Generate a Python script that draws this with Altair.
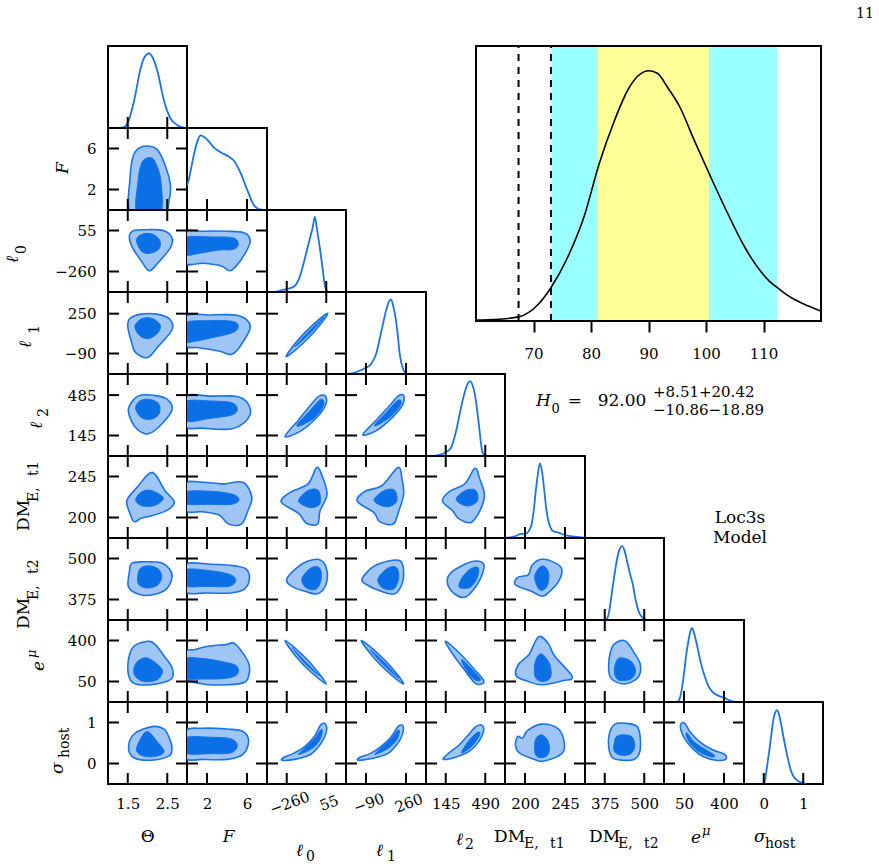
import altair as alt
import pandas as pd

FONT = "DejaVu Serif"
BLUE = "#1a73e8"
LIGHT = "#9fc5f4"
DARK = "#0b6fe6"
COL_W = [79, 80, 79, 80, 79, 80, 79, 80, 79]   # panel widths per column
H = 82                                         # panel height
TL = 11                                        # inward tick length

# ---- parameters of the corner grid -------------------------------------
params = ["theta", "F", "l0", "l1", "l2", "dm1", "dm2", "emu", "sig"]

theta_dom, theta_ticks = [1.0, 3.0], [1.5, 2.5]
F_dom, F_ticks = [0.0, 8.0], [2, 6]
l0_dom, l0_ticks = [-417.5, 212.5], [-260, 55]
l1_dom, l1_ticks, l1_yticks = [-265.0, 435.0], [-90, 260], [-90, 250]
l2_dom, l2_ticks, l2_yticks = [-27.5, 662.5], [145, 490], [145, 485]
dm1_dom, dm1_ticks = [177.5, 267.5], [200, 245]
dm2_dom, dm2_ticks = [312.5, 562.5], [375, 500]
emu_dom, emu_ticks = [-125.0, 575.0], [50, 400]
sig_dom, sig_ticks = [-0.5, 1.5], [0, 1]

# ---- 1D marginal posteriors (normalised height) -------------------------
theta_pdf_x = [1.0, 1.2, 1.35, 1.41, 1.53, 1.66, 1.83, 1.93, 2.04, 2.13, 2.25, 2.42, 2.59, 2.74, 2.84, 3.0]
theta_pdf_y = [0.0, 0.0, 0.005, 0.01, 0.1, 0.33, 0.735, 0.87, 0.91, 0.86, 0.695, 0.33, 0.11, 0.04, 0.015, 0.0]
F_pdf_x = [0.0, 0.13, 0.7, 1.04, 1.37, 2.0, 2.71, 3.4, 4.07, 4.7, 5.4, 6.07, 6.74, 7.4, 8.0]
F_pdf_y = [0.3, 0.35, 0.68, 0.84, 0.91, 0.86, 0.76, 0.7, 0.66, 0.6, 0.44, 0.23, 0.05, 0.005, 0.0]
l0_pdf_x = [-417.5, -340, -305.7, -250, -200, -160, -134, -107, -81, -54, -36, -20, -2, 12, 25, 43, 57, 80, 212.5]
l0_pdf_y = [0.0, 0.005, 0.02, 0.04, 0.07, 0.17, 0.3, 0.46, 0.62, 0.78, 0.915, 0.78, 0.6, 0.45, 0.3, 0.09, 0.02, 0.0, 0.0]
l1_pdf_x = [-265, -200, -164.6, -100, -47.4, 0, 25.7, 60, 84.8, 110, 128.8, 150, 172.9, 190, 202, 220, 240.7, 260, 300, 435]
l1_pdf_y = [0.0, 0.01, 0.03, 0.07, 0.12, 0.25, 0.4, 0.62, 0.77, 0.88, 0.91, 0.82, 0.65, 0.45, 0.28, 0.13, 0.04, 0.01, 0.0, 0.0]
l2_pdf_x = [-27.5, 60, 104.5, 150, 191.4, 234.8, 278.2, 321.7, 340, 359, 380, 399.8, 420, 437.2, 455, 466.7, 504, 662.5]
l2_pdf_y = [0.0, 0.005, 0.02, 0.05, 0.1, 0.3, 0.59, 0.83, 0.89, 0.91, 0.86, 0.75, 0.55, 0.35, 0.13, 0.04, 0.0, 0.0]
dm1_pdf_x = [177.5, 188.6, 195.8, 199.9, 204, 207.5, 210, 212.1, 214.5, 216.9, 219.3, 221.8, 224, 226.3, 231.4, 237.7, 245, 252.8, 267.5]
dm1_pdf_y = [0.0, 0.02, 0.05, 0.05, 0.08, 0.17, 0.35, 0.57, 0.78, 0.91, 0.8, 0.57, 0.35, 0.21, 0.085, 0.065, 0.035, 0.02, 0.005]
dm2_pdf_x = [312.5, 376, 382.7, 389, 395.3, 403, 411, 420, 429.9, 438, 447.8, 455, 463.5, 470, 477.1, 485, 495, 505, 521, 562.5]
dm2_pdf_y = [0.0, 0.0, 0.02, 0.1, 0.27, 0.48, 0.68, 0.84, 0.9, 0.84, 0.68, 0.56, 0.44, 0.3, 0.17, 0.08, 0.03, 0.005, 0.0, 0.0]
emu_pdf_x = [-125, -11.3, 8.9, 30, 53, 70, 88.2, 105, 120.8, 138, 156, 178, 200, 230, 259, 295, 332, 370, 405.4, 440, 464.4, 500, 575]
emu_pdf_y = [0.0, 0.0, 0.03, 0.15, 0.38, 0.58, 0.74, 0.86, 0.9, 0.84, 0.74, 0.6, 0.46, 0.32, 0.21, 0.13, 0.09, 0.065, 0.05, 0.025, 0.01, 0.0, 0.0]
sig_pdf_x = [-0.01, 0.02, 0.08, 0.15, 0.2, 0.25, 0.29, 0.33, 0.38, 0.44, 0.5, 0.57, 0.63, 0.69, 0.77, 0.86, 0.99, 1.07]
sig_pdf_y = [0.0, 0.02, 0.2, 0.44, 0.63, 0.8, 0.87, 0.9, 0.86, 0.73, 0.57, 0.4, 0.27, 0.16, 0.08, 0.04, 0.01, 0.0]

# ---- 2D credible contours: outer (light) and inner (dark) levels ---------
F_theta_out = [[1.58, -0.4], [1.56, 3.2], [1.64, 5.28], [1.80, 6.08], [2.0, 6.24], [2.24, 5.92], [2.42, 4.64], [2.58, 2.48], [2.54, 0.8], [2.4, -0.4]]
F_theta_in = [[1.74, -0.4], [1.76, 2.8], [1.86, 4.64], [2.06, 5.12], [2.2, 4.64], [2.34, 2.8], [2.32, -0.4]]

l0_theta_out = [[1.54, 11], [1.62, -77], [1.84, -178], [2.04, -254], [2.24, -203], [2.58, -77], [2.62, -2], [2.4, 55], [2.0, 61], [1.66, 55]]
l0_theta_in = [[1.72, -14], [1.84, -102], [2.04, -121], [2.28, -90], [2.32, -27], [2.16, 23], [1.9, 30]]
l0_F_out = [[-0.24, -191], [-0.24, 36], [1.6, 49], [4.0, 49], [5.76, 36], [6.32, -27], [5.76, -128], [4.8, -228], [4.24, -254], [3.36, -216], [1.6, -197]]
l0_F_in = [[-0.24, -128], [-0.24, -2], [2.4, 5], [4.64, -2], [5.12, -52], [4.64, -90], [3.04, -96], [1.2, -121]]

l1_theta_out = [[1.5, 141], [1.6, 1], [1.7, -83], [2.0, -125], [2.26, -34], [2.62, 113], [2.56, 204], [2.24, 246], [1.84, 246], [1.56, 211]]
l1_theta_in = [[1.68, 141], [1.8, 64], [2.02, 36], [2.26, 85], [2.32, 155], [2.1, 211], [1.84, 204]]
l1_F_out = [[-0.24, -13], [-0.24, 225], [2.4, 239], [5.2, 232], [6.32, 141], [5.44, -13], [4.48, -97], [3.2, -69], [1.2, -41]]
l1_F_in = [[-0.24, 15], [-0.24, 169], [2.4, 190], [4.64, 183], [5.12, 134], [4.48, 85], [2.4, 43], [0.8, 15]]
l1_l0_out = [[-266, -118], [-172, 22], [-58, 148], [68, 253], [-27, 113], [-140, -13]]
l1_l0_in = [[-197, -34], [-96, 85], [36, 218], [-84, 71]]

l2_theta_out = [[1.52, 373], [1.6, 262], [1.76, 193], [2.0, 159], [2.28, 214], [2.62, 359], [2.5, 449], [2.16, 483], [1.76, 476]]
l2_theta_in = [[1.7, 373], [1.84, 297], [2.1, 283], [2.3, 331], [2.28, 414], [2.04, 449], [1.8, 435]]
l2_F_out = [[-0.24, 228], [-0.24, 469], [2.4, 476], [5.2, 469], [6.32, 373], [5.92, 269], [4.4, 200], [1.6, 207]]
l2_F_in = [[-0.24, 269], [-0.24, 428], [2.4, 435], [4.48, 421], [5.04, 366], [4.48, 318], [2.4, 290]]
l2_l0_out = [[-273, 138], [-166, 276], [-71, 400], [-2, 476], [49, 476], [49, 400], [-27, 290], [-153, 180]]
l2_l0_in = [[-178, 235], [-71, 359], [11, 449], [36, 407], [-27, 304], [-134, 235]]
l2_l1_out = [[-118, 152], [1, 276], [120, 400], [190, 476], [239, 483], [232, 407], [141, 297], [1, 186]]
l2_l1_in = [[-13, 235], [99, 352], [190, 442], [218, 414], [141, 318], [29, 242]]

dm1_theta_out = [[2.12, 249.5], [1.74, 233.3], [1.48, 218.9], [1.54, 206.3], [1.66, 195.5], [1.84, 199.1], [2.1, 201.8], [2.5, 208.1], [2.68, 217.1], [2.44, 229.7]]
dm1_theta_in = [[1.7, 218.9], [1.84, 227.9], [2.1, 229.7], [2.4, 221.6], [2.2, 213.5], [1.88, 212.6]]
dm1_F_out = [[-0.24, 208.1], [-0.24, 236.9], [1.6, 238.7], [3.6, 236.9], [5.6, 238.7], [6.48, 222.5], [6.08, 207.2], [5.44, 192.8], [4.16, 192.8], [3.2, 202.7], [1.6, 206.3]]
dm1_F_in = [[-0.24, 215.3], [-0.24, 227.9], [2.4, 228.8], [4.64, 225.2], [5.2, 218.9], [4.4, 214.4], [2.4, 214.4]]
dm1_l0_out = [[-21, 254.9], [24, 245], [61, 225.2], [5, 207.2], [-14, 192.8], [-103, 193.7], [-166, 204.5], [-304, 217.1], [-229, 227.9], [-90, 236.9]]
dm1_l0_in = [[-166, 218], [-90, 229.7], [-8, 229.7], [5, 215.3], [-71, 210.8]]
dm1_l1_out = [[190, 254.9], [225, 242.3], [239, 225.2], [197, 207.2], [148, 192.8], [29, 195.5], [-20, 205.4], [-167, 218], [-97, 228.8], [50, 235.1]]
dm1_l1_in = [[-20, 218.9], [71, 229.7], [162, 229.7], [176, 217.1], [85, 211.7]]
dm1_l2_out = [[400, 254], [442, 242.3], [483, 225.2], [449, 209], [366, 194.6], [255, 199.1], [207, 207.2], [117, 218], [180, 228.8], [311, 236.9]]
dm1_l2_in = [[235, 219.8], [318, 229.7], [407, 229.7], [421, 218], [331, 212.6]]

dm2_theta_out = [[1.6, 485], [1.9, 490], [2.32, 487.5], [2.56, 467.5], [2.62, 442.5], [2.48, 407.5], [2.16, 390], [1.8, 390], [1.52, 412.5], [1.54, 457.5]]
dm2_theta_in = [[1.8, 467.5], [2.04, 477.5], [2.28, 467.5], [2.36, 442.5], [2.24, 417.5], [1.96, 410], [1.76, 425]]
dm2_F_out = [[-0.24, 400], [-0.24, 480], [2.4, 482.5], [4.8, 477.5], [5.92, 467.5], [6.24, 437.5], [5.76, 407.5], [4.4, 395], [2.0, 395]]
dm2_F_in = [[-0.24, 417.5], [-0.24, 465], [2.4, 462.5], [4.4, 450], [4.88, 432.5], [4.16, 415], [2.0, 415]]
dm2_l0_out = [[-90, 492.5], [11, 495], [61, 462.5], [49, 417.5], [-14, 392.5], [-115, 400], [-229, 417.5], [-260, 437.5], [-178, 472.5]]
dm2_l0_in = [[-140, 437.5], [-71, 470], [-2, 472.5], [17, 442.5], [-21, 407.5], [-103, 410]]
dm2_l1_out = [[106, 492.5], [211, 492.5], [239, 462.5], [225, 422.5], [162, 392.5], [43, 400], [-83, 420], [-125, 437.5], [-27, 475]]
dm2_l1_in = [[15, 437.5], [99, 470], [176, 472.5], [197, 442.5], [155, 407.5], [57, 410]]
dm2_l2_out = [[311, 482.5], [414, 492.5], [476, 482.5], [469, 457.5], [414, 417.5], [318, 382.5], [221, 392.5], [159, 425], [186, 455]]
dm2_l2_in = [[262, 412.5], [290, 442.5], [359, 467.5], [428, 472.5], [421, 442.5], [359, 412.5]]
dm2_dm1_out = [[218.9, 497.5], [233.3, 487.5], [241.4, 467.5], [237.8, 430], [227, 397.5], [218.9, 385], [207.2, 400], [189.2, 420], [191.9, 442.5], [203.6, 450], [208.1, 480]]
dm2_dm1_in = [[210.8, 442.5], [216.2, 472.5], [222.5, 475], [227, 450], [224.3, 412.5], [216.2, 405]]

emu_theta_out = [[2.0, 393], [2.2, 365], [2.42, 267], [2.62, 169], [2.6, 71], [2.08, 22], [1.62, 43], [1.5, 169], [1.62, 337]]
emu_theta_in = [[1.76, 225], [1.96, 253], [2.2, 211], [2.38, 141], [2.24, 64], [1.9, 50], [1.68, 99], [1.66, 169]]
emu_F_out = [[-0.24, 85], [-0.24, 295], [0.8, 323], [2.08, 351], [3.84, 365], [4.8, 372], [6.08, 225], [6.24, 127], [5.76, 43], [4.0, 22], [1.6, 29]]
emu_F_in = [[-0.24, 85], [-0.24, 239], [1.6, 246], [3.6, 218], [4.96, 183], [5.04, 113], [4.0, 78], [1.6, 71]]
emu_l0_out = [[-273, 400], [-150, 291.5], [-43, 172.5], [55, 29], [-74, 137.5], [-181, 256.5]]
emu_l0_in = [[-216, 337], [-103, 211], [-2, 99], [-115, 204]]
emu_l1_out = [[-132, 400], [8, 295], [134, 169], [239, 29], [99, 134], [-27, 260]]
emu_l1_in = [[-55, 323], [64, 218], [197, 78], [57, 197]]
emu_l2_out = [[145, 393], [283, 274], [400, 148], [476, 57], [456, 29], [400, 36], [304, 155], [193, 302]]
emu_l2_in = [[283, 239], [387, 141], [449, 64], [400, 64], [331, 134]]
emu_dm1_out = [[217.1, 435], [227, 365], [233.3, 267], [253.1, 92], [242.3, 57], [218.9, 22], [203.6, 50], [190.1, 99], [192.8, 197], [204.5, 281], [211.7, 393]]
emu_dm1_in = [[214.4, 267], [219.8, 281], [227.9, 197], [228.8, 85], [219.8, 50], [211.7, 85], [210.8, 190]]
emu_dm2_out = [[427.5, 400], [445, 386], [465, 309], [487.5, 197], [480, 85], [437.5, 29], [395, 78], [387.5, 197], [400, 351]]
emu_dm2_in = [[412.5, 225], [425, 253], [457.5, 225], [472.5, 141], [457.5, 71], [417.5, 64], [405, 141]]

sig_theta_out = [[2.12, 0.9], [2.42, 0.84], [2.56, 0.6], [2.62, 0.38], [2.54, 0.18], [2.08, 0.08], [1.66, 0.14], [1.52, 0.38], [1.66, 0.72]]
sig_theta_in = [[1.9, 0.72], [2.04, 0.76], [2.24, 0.54], [2.42, 0.3], [2.24, 0.18], [1.9, 0.18], [1.72, 0.34]]
sig_F_out = [[-0.24, 0.14], [-0.24, 0.78], [1.6, 0.86], [4.0, 0.84], [5.6, 0.78], [6.16, 0.54], [5.6, 0.22], [4.0, 0.1], [1.6, 0.1]]
sig_F_in = [[-0.24, 0.26], [-0.24, 0.62], [2.4, 0.64], [4.4, 0.6], [5.04, 0.44], [4.4, 0.26], [2.4, 0.24]]
sig_l0_out = [[-298, 0.08], [-197, 0.1], [-71, 0.22], [11, 0.48], [55, 0.76], [49, 0.96], [11, 0.94], [-40, 0.66], [-115, 0.42], [-210, 0.24], [-279, 0.16]]
sig_l0_in = [[-166, 0.22], [-71, 0.34], [-2, 0.54], [24, 0.78], [11, 0.82], [-40, 0.6], [-115, 0.38]]
sig_l1_out = [[-160, 0.08], [-41, 0.12], [99, 0.24], [190, 0.5], [232, 0.74], [232, 0.92], [190, 0.9], [127, 0.64], [43, 0.42], [-55, 0.24], [-139, 0.16]]
sig_l1_in = [[-13, 0.22], [99, 0.36], [176, 0.56], [204, 0.78], [183, 0.8], [127, 0.6], [43, 0.38]]
sig_l2_out = [[124, 0.1], [235, 0.16], [352, 0.3], [435, 0.54], [476, 0.8], [456, 0.94], [400, 0.88], [331, 0.66], [249, 0.42], [166, 0.24]]
sig_l2_in = [[283, 0.26], [366, 0.4], [428, 0.62], [442, 0.76], [400, 0.72], [331, 0.5]]
sig_dm1_out = [[218, 0.96], [235.1, 0.88], [243.2, 0.62], [242.3, 0.26], [221.6, 0.06], [210.8, 0.1], [193.7, 0.26], [189.2, 0.46], [191.9, 0.66], [197.3, 0.62], [202.7, 0.8]]
sig_dm1_in = [[211.7, 0.58], [218.9, 0.7], [226.1, 0.54], [227, 0.26], [219.8, 0.14], [211.7, 0.22]]
sig_dm2_out = [[407.5, 0.96], [442.5, 0.98], [477.5, 0.9], [487.5, 0.62], [485, 0.26], [467.5, 0.1], [432.5, 0.08], [400, 0.14], [387.5, 0.4], [390, 0.74]]
sig_dm2_in = [[412.5, 0.66], [437.5, 0.7], [462.5, 0.64], [470, 0.42], [457.5, 0.24], [427.5, 0.2], [405, 0.3], [405, 0.5]]
sig_emu_out = [[22, 0.96], [57, 0.98], [106, 0.76], [190, 0.52], [295, 0.34], [407, 0.22], [414, 0.1], [330, 0.08], [225, 0.16], [134, 0.34], [57, 0.6], [22, 0.82]]
sig_emu_in = [[78, 0.74], [141, 0.52], [239, 0.34], [316, 0.2], [295, 0.16], [197, 0.26], [113, 0.46], [71, 0.66]]

# ---- H0 posterior inset ---------------------------------------------------
h0_x = [60, 62.9, 67.4, 70.8, 73.0, 75.9, 78.8, 81.4, 84.1, 86.4, 88.1, 90.1, 91.6, 93.3, 95.4, 98.0, 100.9, 103.8, 106.7, 108.0, 109.6, 111.0, 112.8, 114.0, 115.4, 117.0, 120]
h0_pdf = [0.003, 0.005, 0.015, 0.06, 0.12, 0.23, 0.38, 0.57, 0.73, 0.84, 0.89, 0.91, 0.90, 0.85, 0.78, 0.655, 0.52, 0.39, 0.27, 0.225, 0.178, 0.145, 0.115, 0.096, 0.078, 0.062, 0.036]
h0_median = 92.00
h0_minus = [10.86, 18.89]
h0_plus = [8.51, 20.42]
h0_reference = [67.4, 73.04]

# ---- lookup tables ---------------------------------------------------------
dom = {p: globals()[p + "_dom"] for p in params}
xticks = {p: globals()[p + "_ticks"] for p in params}
yticks = dict(xticks, l1=l1_yticks, l2=l2_yticks)
pdf = {p: (globals()[p + "_pdf_x"], globals()[p + "_pdf_y"]) for p in params}
fmt = {p: "d" for p in params}
fmt["theta"] = ".1f"
contours = {}
for r in range(9):
    for c in range(r):
        key = params[r] + "_" + params[c]
        contours[(r, c)] = (globals()[key + "_out"], globals()[key + "_in"])

ONE = pd.DataFrame({"a": [0]})


def scale(p):
    return alt.Scale(domain=dom[p], nice=False, zero=False)


def x_axis(p):
    angle = 340 if p in ("l0", "l1") else 0
    return alt.Axis(values=xticks[p], format=fmt[p], ticks=False, tickSize=0, domain=False,
                    grid=False, labelPadding=12, labelFont=FONT, labelFontSize=15,
                    labelColor="black", labelAngle=angle, labelAlign="center",
                    labelBaseline="top", labelOverlap=False, labelFlush=False, title=None)


def y_axis(p):
    return alt.Axis(values=yticks[p], format=fmt[p], ticks=False, tickSize=0, domain=False,
                    grid=False, labelPadding=12, labelFont=FONT, labelFontSize=15,
                    labelColor="black", labelAlign="right", labelBaseline="middle",
                    labelOverlap=False, labelFlush=False, title=None)


def txt(text, x, y, size=17, angle=0, style="normal", align="left", baseline="alphabetic"):
    return alt.Chart(ONE).mark_text(text=text, x=x, y=y, fontSize=size, font=FONT,
                                    fontStyle=style, angle=angle, align=align,
                                    baseline=baseline, color="black")


def tick_rules(p, sc, ax, channel, sides):
    df = pd.DataFrame({"v": (xticks if channel == "x" else yticks)[p]})
    out = []
    for a, b in sides:
        base = alt.Chart(df).mark_rule(color="black", strokeWidth=2)
        if channel == "x":
            out.append(base.encode(x=alt.X("v:Q", scale=sc, axis=ax), y=alt.value(a), y2=alt.value(b)))
        else:
            out.append(base.encode(y=alt.Y("v:Q", scale=sc, axis=ax), x=alt.value(a), x2=alt.value(b)))
    return out


# axis titles drawn as text pieces (symbol + sub/superscript)
x_titles = {
    0: [("Θ", 39.7, 140, 17, "normal", "center")],
    1: [("F", 41.7, 140, 17, "italic", "center")],
    2: [("ℓ", 29, 154, 17, "italic", "left"), ("0", 39, 159, 14, "normal", "left")],
    3: [("ℓ", 30, 154, 17, "italic", "left"), ("1", 41, 159, 14, "normal", "left")],
    4: [("ℓ", 30, 143, 17, "italic", "left"), ("2", 39, 147, 14, "normal", "left")],
    5: [("DM", -11, 140, 17, "normal", "left"), ("E,", 19, 146, 14, "normal", "left"), ("t1", 45, 146, 14, "normal", "left")],
    6: [("DM", 4, 140, 17, "normal", "left"), ("E,", 33, 146, 14, "normal", "left"), ("t2", 59, 146, 14, "normal", "left")],
    7: [("e", 27, 140.7, 17, "italic", "left"), ("μ", 38, 133, 13, "italic", "left")],
    8: [("σ", 10, 140, 17, "italic", "left"), ("host", 21, 146, 14, "normal", "left")],
}
y_titles = {
    1: [("F", -40.3, 40, 17, "italic", "center")],
    2: [("ℓ", -90, 53, 17, "italic", "left"), ("0", -82, 44, 14, "normal", "left")],
    3: [("ℓ", -77, 56, 17, "italic", "left"), ("1", -69, 42, 14, "normal", "left")],
    4: [("ℓ", -66, 55, 17, "italic", "left"), ("2", -60, 43, 14, "normal", "left")],
    5: [("DM", -79, 75, 17, "normal", "left"), ("E,", -70, 46, 14, "normal", "left"), ("t1", -70, 20, 14, "normal", "left")],
    6: [("DM", -79, 91, 17, "normal", "left"), ("E,", -70, 62, 14, "normal", "left"), ("t2", -70, 36, 14, "normal", "left")],
    7: [("e", -64, 51, 17, "italic", "left"), ("μ", -72, 38, 13, "italic", "left")],
    8: [("σ", -45, 72, 17, "italic", "left"), ("host", -39, 56, 14, "normal", "left")],
}


def title_layers(r, c):
    out = []
    if r == 8:
        for t, x, y, s, st, al in x_titles[c]:
            out.append(txt(t, x, y, s, 0, st, al))
    if c == 0 and r in y_titles:
        for t, x, y, s, st, al in y_titles[r]:
            out.append(txt(t, x, y, s, 270, st, al))
    return out


def diag_panel(i):
    p = params[i]
    w = COL_W[i]
    sx = scale(p)
    sy = alt.Scale(domain=[0, 1], nice=False, zero=False)
    ax = x_axis(p) if i == 8 else None
    xs, ys = pdf[p]
    df = pd.DataFrame({"x": xs, "y": ys})
    layers = [alt.Chart(df).mark_line(color=BLUE, strokeWidth=1.8, interpolate="monotone", clip=True)
              .encode(x=alt.X("x:Q", scale=sx, axis=ax), y=alt.Y("y:Q", scale=sy, axis=None))]
    layers += tick_rules(p, sx, ax, "x", [(H, H - TL)])
    layers += title_layers(i, i)
    if i == 0:
        # white corner block fixing the page origin
        layers.append(alt.Chart(ONE).mark_rect(color="white").encode(
            x=alt.value(-107), x2=alt.value(-104), y=alt.value(-45), y2=alt.value(-42)))
    return alt.layer(*layers).properties(width=w, height=H)


def corner_panel(r, c):
    px, py = params[c], params[r]
    w = COL_W[c]
    sx, sy = scale(px), scale(py)
    ax = x_axis(px) if r == 8 else None
    ay = y_axis(py) if c == 0 else None
    outer, inner = contours[(r, c)]
    layers = []
    for pts, fill, sw in ((outer, LIGHT, 1.6), (inner, DARK, 1.0)):
        df = pd.DataFrame({"x": [q[0] for q in pts], "y": [q[1] for q in pts], "k": list(range(len(pts)))})
        layers.append(alt.Chart(df).mark_line(interpolate="cardinal-closed", fill=fill, stroke=BLUE,
                                              strokeWidth=sw, clip=True)
                      .encode(x=alt.X("x:Q", scale=sx, axis=ax), y=alt.Y("y:Q", scale=sy, axis=ay),
                              order=alt.Order("k:Q")))
    layers += tick_rules(px, sx, ax, "x", [(H, H - TL), (0, TL)])
    layers += tick_rules(py, sy, ay, "y", [(0, TL), (w, w - TL)])
    layers += title_layers(r, c)
    return alt.layer(*layers).properties(width=w, height=H)


def blank_panel(c):
    return alt.Chart(ONE).mark_point(opacity=0).properties(
        width=COL_W[c], height=H, view=alt.ViewBackground(stroke="transparent"))


def inset_panel(c):
    # drawn from the empty cell of row 0, column 4 (origin x = 425 px)
    sx = alt.Scale(domain=[60, 120], range=[50, 395], nice=False, zero=False)
    sy = alt.Scale(domain=[0, 1], range=[275, 0], nice=False, zero=False)
    ax = alt.Axis(values=[70, 80, 90, 100, 110], format="d", offset=193, tickSize=11, tickWidth=2,
                  tickColor="black", domain=False, grid=False, labelPadding=14, labelFont=FONT,
                  labelFontSize=15, labelColor="black", labelFlush=False, labelOverlap=False, title=None)
    bands = pd.DataFrame({
        "lo": [h0_median - h0_minus[1], h0_median - h0_minus[0]],
        "hi": [h0_median + h0_plus[1], h0_median + h0_plus[0]],
        "b": [0, 0], "t": [1, 1], "col": ["#99ffff", "#ffff99"],
    })
    refs = pd.DataFrame({"v": h0_reference, "b": [0, 0], "t": [1, 1]})
    curve = pd.DataFrame({"x": h0_x, "y": h0_pdf})
    frame = pd.DataFrame({"x0": [60], "x1": [120], "b": [0], "t": [1]})
    layers = [
        alt.Chart(bands).mark_rect().encode(
            x=alt.X("lo:Q", scale=sx, axis=ax), x2="hi:Q",
            y=alt.Y("b:Q", scale=sy, axis=None), y2="t:Q",
            color=alt.Color("col:N", scale=None)),
        alt.Chart(refs).mark_rule(color="black", strokeWidth=2, strokeDash=[7, 6]).encode(
            x=alt.X("v:Q", scale=sx, axis=ax), y=alt.Y("b:Q", scale=sy, axis=None), y2="t:Q"),
        alt.Chart(curve).mark_line(color="black", strokeWidth=1.6, interpolate="monotone").encode(
            x=alt.X("x:Q", scale=sx, axis=ax), y=alt.Y("y:Q", scale=sy, axis=None)),
        alt.Chart(frame).mark_rect(filled=False, stroke="black", strokeWidth=2).encode(
            x=alt.X("x0:Q", scale=sx, axis=ax), x2="x1:Q",
            y=alt.Y("b:Q", scale=sy, axis=None), y2="t:Q"),
        # H0 summary
        txt("H", 110, 360, 17, style="italic"),
        txt("0", 125.5, 366.7, 13),
        txt("=", 141.7, 360, 17),
        txt(f"{h0_median:.2f}", 171.7, 360, 17),
        txt(f"+{h0_plus[0]:.2f}+{h0_plus[1]:.2f}", 227, 350.5, 15),
        txt(f"−{h0_minus[0]:.2f}−{h0_minus[1]:.2f}", 227, 368.5, 15),
        txt("Loc3s", 314, 471.7, 17, align="center", baseline="middle"),
        txt("Model", 314, 491.7, 17, align="center", baseline="middle"),
        txt("11", 439, -28, 14, align="center"),
    ]
    return alt.layer(*layers).properties(width=COL_W[c], height=H,
                                         view=alt.ViewBackground(stroke="transparent"))


cells = []
for r in range(9):
    for c in range(9):
        if r == c:
            cells.append(diag_panel(r))
        elif r > c:
            cells.append(corner_panel(r, c))
        elif (r, c) == (0, 4):
            cells.append(inset_panel(c))
        else:
            cells.append(blank_panel(c))

chart = (alt.concat(*cells, columns=9, spacing=0, bounds="flush", align="none")
         .properties(padding=0)
         .configure_view(stroke="black", strokeWidth=2))

chart.save("out.html", embed_options={"renderer": "svg", "actions": False})
